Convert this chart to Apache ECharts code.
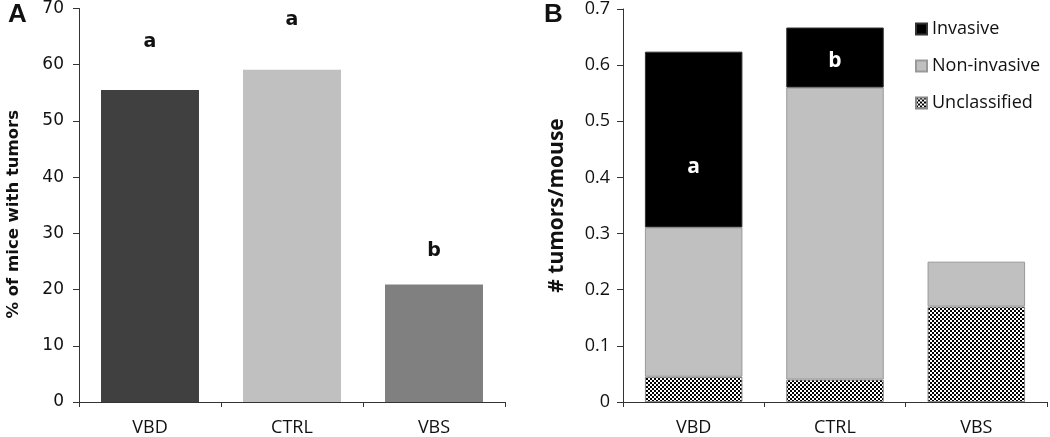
<!DOCTYPE html>
<html>
<head>
<meta charset="utf-8">
<script src="https://cdn.jsdelivr.net/npm/echarts@6/dist/echarts.min.js"></script>
<style>
html,body{margin:0;padding:0;background:#fff;}
#c{width:1050px;height:437px;}
</style>
</head>
<body>
<div id="c"></div>
<script>
// ---- data ----
var categories = ['VBD', 'CTRL', 'VBS'];
var pctMice = [55.5, 59.1, 20.9];
var pctLetters = ['a', 'a', 'b'];
var invasive = [0.313, 0.107, 0];
var nonInvasive = [0.266, 0.52, 0.08];
var unclassified = [0.045, 0.04, 0.17];
var invasiveLetters = ['a', 'b', ''];
var yTicksA = [0, 10, 20, 30, 40, 50, 60, 70];
var yTicksB = [0, 0.1, 0.2, 0.3, 0.4, 0.5, 0.6, 0.7];

// checker pattern for "Unclassified"
var pc = document.createElement('canvas');
pc.width = 4; pc.height = 4;
var g = pc.getContext('2d');
g.fillStyle = '#ffffff'; g.fillRect(0, 0, 4, 4);
g.fillStyle = '#000000'; g.fillRect(0, 0, 2, 2); g.fillRect(2, 2, 2, 2);
var checker = { image: pc, repeat: 'repeat' };

var chart = echarts.init(document.getElementById('c'));
var fA = 'DejaVu Sans';
var fB = 'Open Sans';
var axisLineStyle = { color: '#333', width: 1 };

var aOffsets = [[0, -33], [0, -35], [0, -19]];

chart.setOption({
  animation: false,
  backgroundColor: '#fff',
  title: [
    { text: 'A', left: 3, top: -3, textStyle: { fontFamily: 'Liberation Sans', fontWeight: 'bold', fontSize: 26, color: '#111' } },
    { text: 'B', left: 539, top: -3, textStyle: { fontFamily: 'Liberation Sans', fontWeight: 'bold', fontSize: 26, color: '#111' } }
  ],
  legend: {
    orient: 'vertical', left: 910, top: 15, itemWidth: 11, itemHeight: 11, itemGap: 19, icon: 'rect',
    data: ['Invasive', 'Non-invasive', 'Unclassified'],
    textStyle: { fontFamily: fB, fontSize: 18, color: '#111' }
  },
  grid: [
    { left: 79, right: 545, top: 8.5, bottom: 34 },
    { left: 623, right: 3, top: 8.5, bottom: 34 }
  ],
  xAxis: [
    { type: 'category', gridIndex: 0, data: categories,
      axisLine: { lineStyle: axisLineStyle }, axisTick: { show: true, length: 5, lineStyle: axisLineStyle },
      axisLabel: { fontFamily: fB, fontSize: 18, color: '#111', margin: 17 } },
    { type: 'category', gridIndex: 1, data: categories,
      axisLine: { lineStyle: axisLineStyle }, axisTick: { show: true, length: 5, lineStyle: axisLineStyle },
      axisLabel: { fontFamily: fB, fontSize: 18, color: '#111', margin: 17 } }
  ],
  yAxis: [
    { type: 'value', gridIndex: 0, min: yTicksA[0], max: yTicksA[yTicksA.length - 1], interval: 10,
      name: '% of mice with tumors', nameLocation: 'middle', nameGap: 57,
      nameTextStyle: { fontFamily: fA, fontSize: 16.5, fontWeight: 'bold', color: '#111', padding: [0, 18, 0, 0] },
      axisLine: { show: true, lineStyle: axisLineStyle }, axisTick: { show: true, length: 6, lineStyle: axisLineStyle },
      splitLine: { show: false },
      axisLabel: { fontFamily: fA, fontSize: 17, color: '#111', margin: 15 } },
    { type: 'value', gridIndex: 1, min: yTicksB[0], max: yTicksB[yTicksB.length - 1], interval: 0.1,
      name: '# tumors/mouse', nameLocation: 'middle', nameGap: 55,
      nameTextStyle: { fontFamily: fB, fontSize: 21, fontWeight: 'bold', color: '#111' },
      axisLine: { show: true, lineStyle: axisLineStyle }, axisTick: { show: true, length: 6, lineStyle: axisLineStyle },
      splitLine: { show: false },
      axisLabel: { fontFamily: fB, fontSize: 18, color: '#111', margin: 13, formatter: function (v) { return v === 0 ? '0' : v.toFixed(1); } } }
  ],
  series: [
    { type: 'bar', xAxisIndex: 0, yAxisIndex: 0, barWidth: '69%',
      data: pctMice.map(function (v, i) {
        return { value: v, itemStyle: { color: ['#404040', '#c0c0c0', '#808080'][i] },
          label: { show: true, position: 'top', offset: aOffsets[i], formatter: pctLetters[i],
            fontFamily: fA, fontSize: 19, fontWeight: 'bold', color: '#111' } };
      }) },
    { name: 'Unclassified', type: 'bar', stack: 'b', xAxisIndex: 1, yAxisIndex: 1, barWidth: '69%',
      itemStyle: { color: checker, borderColor: '#888', borderWidth: 1 },
      data: unclassified },
    { name: 'Non-invasive', type: 'bar', stack: 'b', xAxisIndex: 1, yAxisIndex: 1, barWidth: '69%',
      itemStyle: { color: '#c0c0c0', borderColor: '#999', borderWidth: 1 },
      data: nonInvasive },
    { name: 'Invasive', type: 'bar', stack: 'b', xAxisIndex: 1, yAxisIndex: 1, barWidth: '69%',
      itemStyle: { color: '#000', borderColor: '#333', borderWidth: 1 },
      label: { show: true, position: 'inside', fontFamily: fB, fontSize: 21, fontWeight: 'bold', color: '#fff',
        formatter: function (p) { return invasiveLetters[p.dataIndex]; } },
      data: invasive.map(function (v, i) {
        return v === 0 ? '-' : { value: v, label: { offset: i === 0 ? [0, 27] : [0, 3] } };
      }) }
  ]
});
</script>
</body>
</html>
